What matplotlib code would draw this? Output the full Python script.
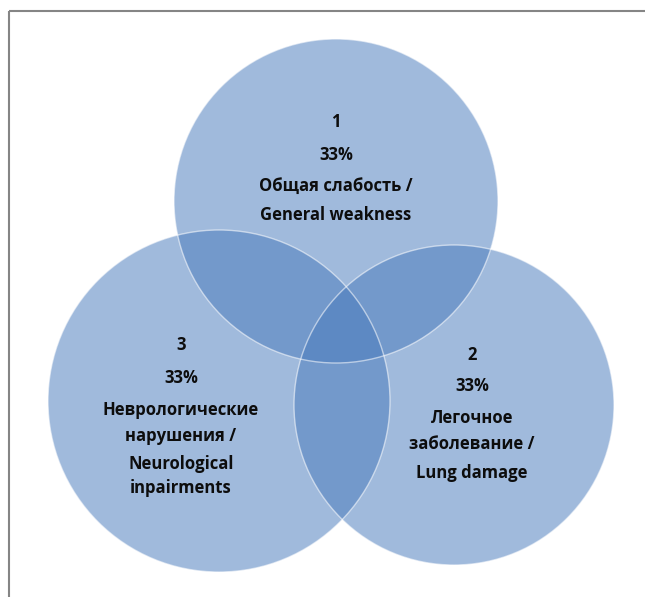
import matplotlib
matplotlib.use("Agg")
import matplotlib.pyplot as plt
from matplotlib.patches import Circle, Rectangle

plt.rcParams['font.family'] = ['Open Sans', 'DejaVu Sans']

# Data
set_numbers = ["1", "2", "3"]
set_shares = ["33%", "33%", "33%"]
set_labels = [
    ["Общая слабость /", "General weakness"],
    ["Легочное", "заболевание /", "Lung damage"],
    ["Неврологические", "нарушения /", "Neurological", "inpairments"],
]

# Layout (pixel coordinates)
W, H = 645, 597
centers = [(336, 201), (454, 405), (219, 401)]
radii = [162, 160, 171]
text_x = [336, 472, 181]
text_y0 = [122, 355, 345]
line_steps = [
    [33, 31, 29],
    [31, 32, 26, 29],
    [33, 32, 26, 28, 24],
]

fig = plt.figure(figsize=(W / 100, H / 100), dpi=100)
ax = fig.add_axes([0, 0, 1, 1])
ax.set_xlim(0, W)
ax.set_ylim(H, 0)
ax.axis('off')

base = '#4A7BBD'
for (cx, cy), r in zip(centers, radii):
    ax.add_patch(Circle((cx, cy), r, facecolor=base, alpha=0.52,
                        edgecolor='none', zorder=2))
for (cx, cy), r in zip(centers, radii):
    ax.add_patch(Circle((cx, cy), r, facecolor='none',
                        edgecolor=(1, 1, 1, 0.55), linewidth=1.0, zorder=3))

# Frame
ax.add_patch(Rectangle((9, 11), W, H, facecolor='none',
                       edgecolor='#858585', linewidth=1.5, zorder=5))

for i in range(3):
    lines = [set_numbers[i], set_shares[i]] + set_labels[i]
    y = text_y0[i]
    for j, t in enumerate(lines):
        ax.text(text_x[i], y, t, ha='center', va='center', fontsize=12,
                fontweight='bold', color='#0d0d0d', zorder=6)
        if j < len(line_steps[i]):
            y += line_steps[i][j]

fig.savefig('out.png', dpi=100)
